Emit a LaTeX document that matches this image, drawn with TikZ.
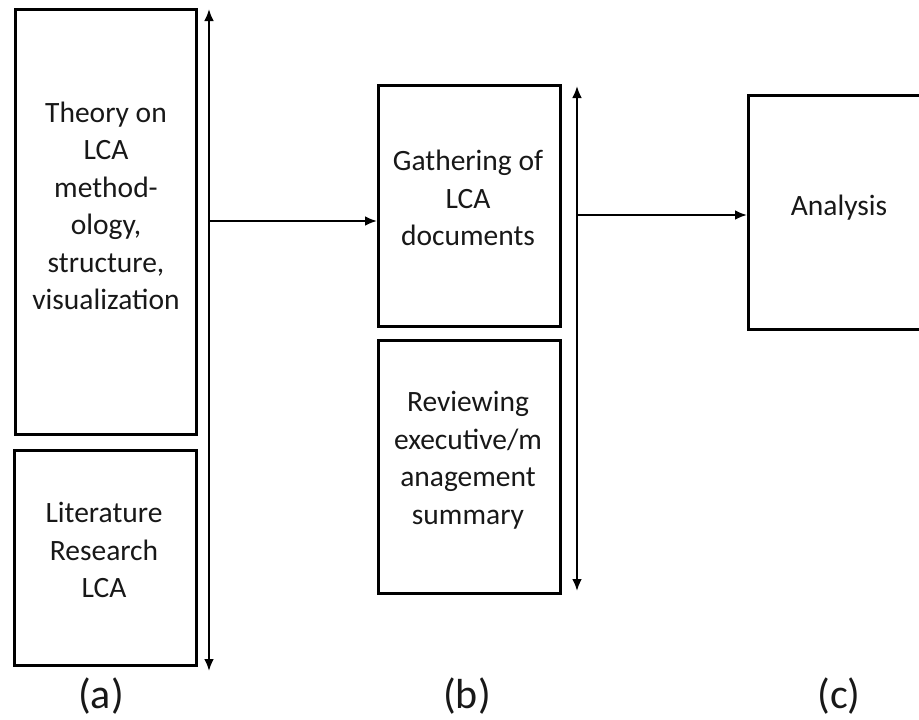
\documentclass[tikz,border=0pt]{standalone}
\usepackage{fontspec}
\setmainfont{Carlito}
\usetikzlibrary{arrows.meta}
\definecolor{textcol}{RGB}{24,24,24}
\begin{document}
\begin{tikzpicture}[x=1pt,y=-1pt,
  box/.style={draw, line width=2.6pt, inner sep=0pt, anchor=north west},
  txt/.style={align=center, inner sep=0pt, font=\fontsize{29.5}{37.5}\selectfont, text=textcol},
  captext/.style={inner sep=0pt, font=\fontsize{42}{50}\selectfont, text=textcol},
  link/.style={line width=2.6pt, -{Latex[length=12pt,width=10pt]}},
  span/.style={line width=2.6pt, {Latex[length=12pt,width=10pt]}-{Latex[length=12pt,width=10pt]}}]
\useasboundingbox (0,0) rectangle (919,720);
\clip (0,0) rectangle (919,720);

% column (a)
\node[box, minimum width=181pt, minimum height=425pt] (theory) at (14,8) {};
\node[box, minimum width=182pt, minimum height=215pt] (lit) at (13,449) {};
\node[txt] (theoryT) at (106,206) {Theory on\\LCA\\method-\\ology,\\structure,\\visualization};
\node[txt] (litT) at (104,550) {Literature\\Research\\LCA};
\coordinate (aTop) at (209,9);
\coordinate (aBot) at (209,671);
\coordinate (aOut) at (209,221);
\draw[span] (aTop) -- (aBot);

% column (b)
\node[box, minimum width=182pt, minimum height=241pt] (gather) at (377,84) {};
\node[box, minimum width=182pt, minimum height=253pt] (review) at (377,339) {};
\node[txt] (gatherT) at (468,198) {Gathering of\\LCA\\documents};
\node[txt] (reviewT) at (468,460) {Reviewing\\executive/m\\anagement\\summary};
\coordinate (bTop) at (577,86);
\coordinate (bBot) at (577,591);
\coordinate (bOut) at (577,215);
\draw[span] (bTop) -- (bBot);

% column (c)
\node[box, minimum width=200pt, minimum height=234pt] (analysis) at (747,94) {};
\node[txt] (analysisT) at (839,208) {Analysis};

% links between the columns
\draw[link] (aOut) -- (aOut -| gather.west);
\draw[link] (bOut) -- (bOut -| analysis.west);

% captions
\node[captext] (capA) at (101,696) {(a)};
\node[captext] (capB) at (467,696) {(b)};
\node[captext] (capC) at (839,696) {(c)};
\end{tikzpicture}
\end{document}
